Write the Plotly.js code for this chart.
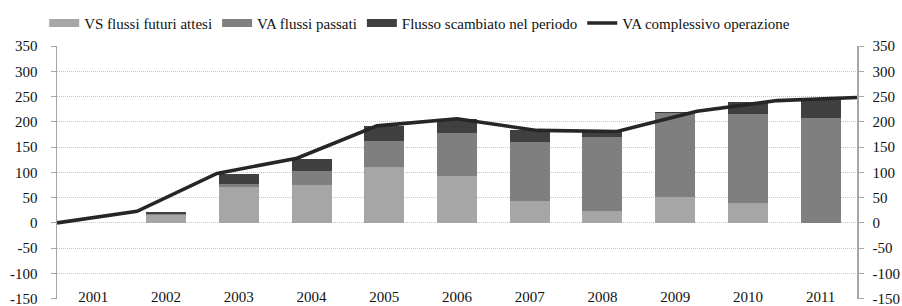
<!DOCTYPE html>
<html>
<head>
<meta charset="utf-8">
<script src="https://cdn.plot.ly/plotly-3.0.1.min.js"></script>
<style>html,body{margin:0;padding:0;background:#fff;}#chart{width:902px;height:306px;}</style>
</head>
<body>
<div id="chart"></div>
<script>
// ---- data ----
const years = ['2001','2002','2003','2004','2005','2006','2007','2008','2009','2010','2011'];
const vsFuturiAttesi = [0, 16, 72, 76, 110, 93, 43, 24, 51, 39, 0];
const vaFlussiPassati = [0, 1, 5, 27, 53, 84, 117, 146, 166, 177, 207];
const flussoScambiato = [0, 5, 20, 24, 28, 28, 23, 10, 3, 24, 40];
const vaComplessivo = [0, 23, 98, 128, 192, 206, 183, 181, 221, 242, 248];
const yTicks = [-150, -100, -50, 0, 50, 100, 150, 200, 250, 300, 350];
const seriesNames = ['VS flussi futuri attesi', 'VA flussi passati', 'Flusso scambiato nel periodo', 'VA complessivo operazione'];

// ---- styles ----
const cLight = '#a6a6a6', cMid = '#7f7f7f', cDark = '#404040', cLine = '#262626';
const axisGray = '#a6a6a6';
const FONT = '"Liberation Serif", "DejaVu Serif", serif';

const lineX = vaComplessivo.map((_, i) => i);
const boundaries = years.slice(1).map((_, i) => i + 0.5);

const legendDummy = (name, color, w) => ({
  type: 'scatter', mode: 'lines', x: [null], y: [null], xaxis: 'x2', yaxis: 'y',
  name: name, line: {color: color, width: w}, hoverinfo: 'skip'
});

const traces = [
  legendDummy(seriesNames[0], cLight, 8),
  legendDummy(seriesNames[1], cMid, 8),
  legendDummy(seriesNames[2], cDark, 8),
  {type: 'bar', x: years, y: vsFuturiAttesi, name: seriesNames[0], marker: {color: cLight}, showlegend: false},
  {type: 'bar', x: years, y: vaFlussiPassati, name: seriesNames[1], marker: {color: cMid}, showlegend: false},
  {type: 'bar', x: years, y: flussoScambiato, name: seriesNames[2], marker: {color: cDark}, showlegend: false},
  {type: 'scatter', mode: 'lines', x: lineX, y: vaComplessivo, xaxis: 'x2', yaxis: 'y',
   name: seriesNames[3], line: {color: cLine, width: 3.6}},
  // invisible companion so the right axis has its own trace
  {type: 'scatter', mode: 'lines', x: lineX, y: vaComplessivo, xaxis: 'x2', yaxis: 'y2',
   showlegend: false, hoverinfo: 'skip', line: {color: 'rgba(0,0,0,0)', width: 0}}
];

const yCommon = {
  range: [-150.5, 350], tickmode: 'array', tickvals: yTicks, ticktext: yTicks.map(String),
  zeroline: false, ticklabeloverflow: 'allow', ticklabelposition: 'outside',
  showline: true, linecolor: axisGray, linewidth: 1.5,
  ticks: 'outside', ticklen: 5, tickcolor: axisGray,
  tickfont: {family: FONT, size: 15, color: '#111'}
};

const layout = {
  width: 902, height: 306,
  margin: {l: 57, r: 45, t: 43, b: 7, pad: 0},
  paper_bgcolor: '#fff', plot_bgcolor: '#fff',
  font: {family: FONT, size: 15, color: '#111'},
  barmode: 'stack', bargap: 0.45,
  showlegend: true,
  legend: {orientation: 'h', traceorder: 'normal', x: -0.016, xanchor: 'left', y: 1.155, yanchor: 'top',
           itemgap: 28, font: {family: FONT, size: 15, color: '#111'}, bgcolor: 'rgba(0,0,0,0)'},
  xaxis: {type: 'category', range: [-0.5, 10.5], anchor: 'free', position: 0.05,
          showline: false, ticks: '', showgrid: false, zeroline: false,
          tickfont: {family: FONT, size: 15, color: '#111'}},
  xaxis2: {overlaying: 'x', range: [0, 10], visible: false, anchor: 'y'},
  xaxis3: {overlaying: 'x', type: 'linear', range: [-0.5, 10.5], anchor: 'free', position: 0.301,
           showline: true, linecolor: axisGray, linewidth: 1.5, ticks: 'outside', ticklen: 5,
           tickcolor: axisGray, tickvals: boundaries, showticklabels: false,
           showgrid: false, zeroline: false},
  yaxis: Object.assign({}, yCommon, {showgrid: true, gridcolor: '#c4c4c4', griddash: '1px,1px', gridwidth: 1,
          ticklabelstandoff: 10}),
  yaxis2: Object.assign({}, yCommon, {overlaying: 'y', side: 'right', showgrid: false, anchor: 'x',
          ticklabeloverflow: 'allow', ticklabelstandoff: 6})
};

Plotly.newPlot('chart', traces, layout, {displayModeBar: false, staticPlot: true});
</script>
</body>
</html>
